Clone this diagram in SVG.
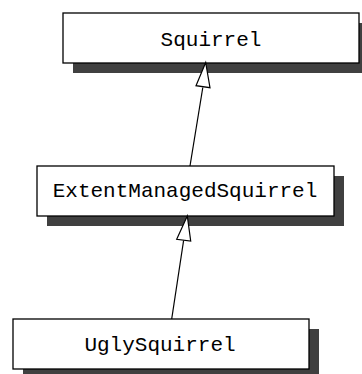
<svg xmlns="http://www.w3.org/2000/svg" width="362" height="374" viewBox="0 0 362 374">
<defs>
<style>
.shadow{fill:#404040;stroke:none}
.box{fill:#ffffff;stroke:#000000;stroke-width:1.3}
.label{font-family:"Liberation Mono","Courier New",monospace;font-size:21px;fill:#000000;text-anchor:middle}
.edge{fill:none;stroke:#000000;stroke-width:1.2}
.head{fill:#ffffff;stroke:#000000;stroke-width:1.2;stroke-linejoin:miter}
</style>
</defs>
<rect width="362" height="374" fill="#ffffff"/>
<g id="node-squirrel">
<rect class="shadow" x="73" y="23" width="296" height="50"/>
<rect class="box" x="63" y="13" width="296" height="50"/>
<text class="label" x="211" y="46">Squirrel</text>
</g>
<g id="node-extentmanagedsquirrel">
<rect class="shadow" x="47" y="176" width="297" height="50"/>
<rect class="box" x="37" y="166" width="297" height="50"/>
<text class="label" x="185" y="197">ExtentManagedSquirrel</text>
</g>
<g id="node-uglysquirrel">
<rect class="shadow" x="23" y="329" width="296" height="50"/>
<rect class="box" x="13" y="319" width="296" height="50"/>
<text class="label" x="160" y="351">UglySquirrel</text>
</g>
<g id="connectors">
<line class="edge" x1="190" y1="166" x2="202.8" y2="87.5"/>
<polygon class="head" points="205.7,62.6 196,85.7 210,87.7"/>
<line class="edge" x1="171.7" y1="319" x2="183.6" y2="240.5"/>
<polygon class="head" points="187.3,216 176.7,239.3 190.7,241"/>
</g>
</svg>
